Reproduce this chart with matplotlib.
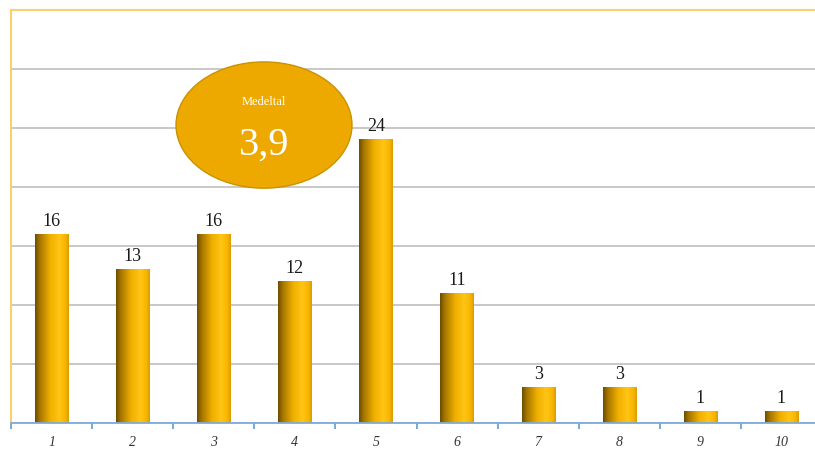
import numpy as np
import matplotlib
matplotlib.use("Agg")
import matplotlib.pyplot as plt
from matplotlib.patches import Ellipse
from matplotlib.colors import LinearSegmentedColormap

categories = ["1", "2", "3", "4", "5", "6", "7", "8", "9", "10"]
values = [16, 13, 16, 12, 24, 11, 3, 3, 1, 1]
mean_label = "Medeltal"
mean_value = "3,9"

fig = plt.figure(figsize=(8.15, 4.52), dpi=100)
ax = fig.add_axes([11/815, 28/452, 811/815, (424 - 11)/452])

x = np.arange(1, len(values) + 1)
width = 0.41

cmap = LinearSegmentedColormap.from_list("gold", [
    (0.0, (0.42, 0.30, 0.0)),
    (0.15, (0.66, 0.47, 0.0)),
    (0.45, (0.94, 0.69, 0.0)),
    (0.72, (1.0, 0.77, 0.08)),
    (0.9, (0.97, 0.71, 0.0)),
    (1.0, (0.85, 0.61, 0.0)),
])
grad = np.linspace(0, 1, 256).reshape(1, -1)

for xi, v in zip(x, values):
    ax.imshow(grad, cmap=cmap, aspect="auto",
              extent=(xi - width/2, xi + width/2, 0, v), zorder=3,
              interpolation="bilinear")
    ax.annotate(str(v), (xi, v), xytext=(0, 4), textcoords="offset points",
                ha="center", va="bottom", fontsize=13, family="Liberation Serif",
                color="#1a1a1a", zorder=5)

ax.set_xlim(0.5, len(values) + 0.5)
ax.set_ylim(0, 35)

ax.set_yticks(np.arange(0, 36, 5))
ax.yaxis.grid(True, color="#C4C4C4", linewidth=1.3, zorder=0)
ax.set_axisbelow(True)
ax.tick_params(axis="y", length=0, labelleft=False)

ax.set_xticks(x)
ax.set_xticklabels(categories, fontstyle="italic", family="Liberation Serif",
                   fontsize=10, color="#333333")
ax.tick_params(axis="x", which="major", length=0, pad=9)
ax.set_xticks(np.arange(0.5, len(values) + 0.6, 1), minor=True)
ax.tick_params(axis="x", which="minor", length=4, width=1.2, color="#5B9BD5",
               direction="out")

for s in ["left", "top"]:
    ax.spines[s].set_color("#F8D06E")
    ax.spines[s].set_linewidth(1.5)
ax.spines["right"].set_visible(False)
ax.spines["bottom"].set_color("#7FAADC")
ax.spines["bottom"].set_linewidth(1.3)
ax.spines["bottom"].set_zorder(6)

cx = 0.5 + (264 - 11) / 81.1
ell = Ellipse((cx, 25.25), 176 / 81.1, 10.7, facecolor="#EDA900",
              edgecolor="#C99200", linewidth=1.0, zorder=7)
ax.add_patch(ell)
ax.text(cx, 27.3, mean_label, ha="center", va="center", color="white",
        fontsize=9, family="Liberation Serif", zorder=8)
ax.text(cx, 23.6, mean_value, ha="center", va="center", color="white",
        fontsize=29, family="Liberation Serif", zorder=8)

fig.savefig("out.png", dpi=100)
